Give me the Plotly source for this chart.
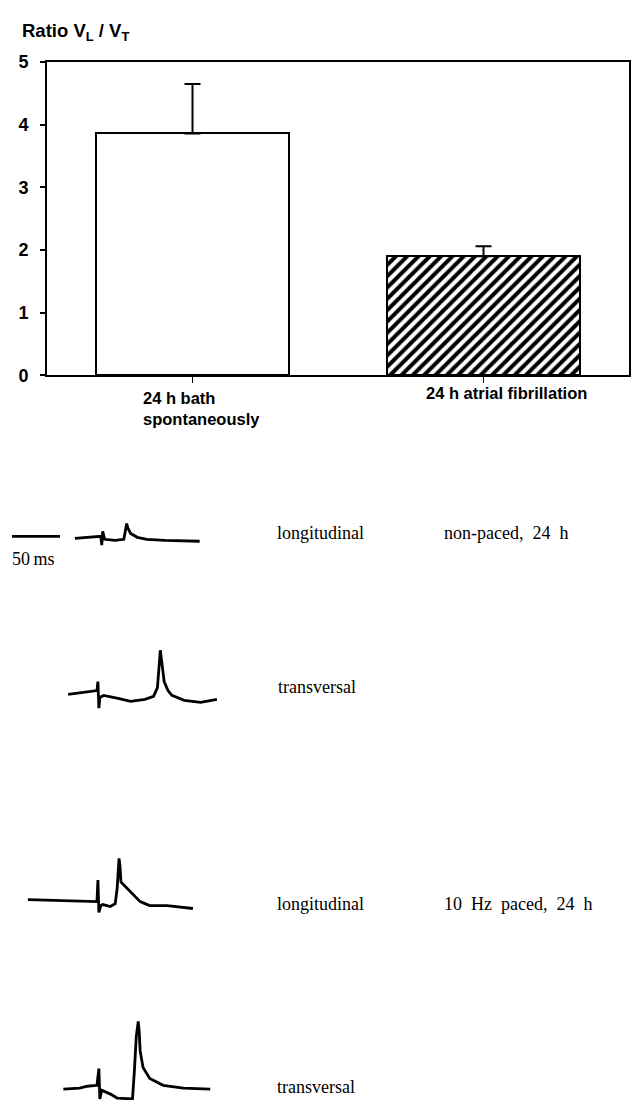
import plotly.graph_objects as go

W, H = 639, 1110

# ---------------- bar chart data ----------------
categories = ["24 h bath<br>spontaneously", "24 h atrial fibrillation"]
ratio_mean = [3.86, 1.90]
ratio_err = [0.79, 0.16]
y_ticks = [0, 1, 2, 3, 4, 5]

# ---------------- action potential recordings ----------------
# time in ms (50 ms scale bar), amplitude in arbitrary units (up = positive)
scale_bar_t = [12.5, 62.5]
scale_bar_a = [3, 3]

t_long_np = [78, 94, 105, 106, 107, 109, 120, 129, 131, 132, 133, 136, 143, 153, 172, 208]
a_long_np = [1, 2, 3, -6, 8, 0, -1, 0, 9, 16, 12, 6, 2, 0, -1, -2]

t_trans_np = [71, 89, 101, 102, 103, 104, 108, 123, 136, 151, 160, 164, 166, 167, 168, 171, 175, 179, 192, 209, 226]
a_trans_np = [0, 2, 4, 13, -14, -3, -1, -4, -7, -5, -2, 7, 37, 45, 37, 13, 4, -1, -6, -8, -5]

t_long_p = [29, 62, 101, 102, 103, 105, 107, 115, 120, 122, 124, 125, 126, 129, 133, 138, 142, 146, 151, 156, 174, 201]
a_long_p = [1, 0, -1, 21, -12, -5, -4, -6, -3, 12, 43, 35, 19, 16, 12, 7, 3, -1, -3, -5, -5, -8]

t_trans_p = [66, 83, 91, 101, 103, 104, 106, 115, 122, 138, 140, 142, 144, 145, 146, 149, 156, 170, 191, 219]
a_trans_p = [-1, 0, 2, 3, 20, -11, -2, -6, -10, -11, 18, 53, 68, 58, 38, 21, 10, 3, 0, -1]

fig = go.Figure()

err_style = dict(type="data", symmetric=False, color="black", thickness=2, width=8)
fig.add_trace(go.Bar(
    x=[0], y=[ratio_mean[0]], width=0.665,
    marker=dict(color="white", line=dict(color="black", width=2)),
    error_y=dict(array=[ratio_err[0]], arrayminus=[0], **err_style),
    showlegend=False, xaxis="x", yaxis="y"))
fig.add_trace(go.Bar(
    x=[1], y=[ratio_mean[1]], width=0.665,
    marker=dict(color="white", line=dict(color="black", width=2),
                pattern=dict(shape="/", fgcolor="black", bgcolor="white", fgopacity=1,
                             size=8, solidity=0.5)),
    error_y=dict(array=[ratio_err[1]], arrayminus=[0], **err_style),
    showlegend=False, xaxis="x", yaxis="y"))


def py(p):
    return 1 - p / H


def px(p):
    return p / W


fig.update_layout(
    width=W, height=H, margin=dict(l=0, r=0, t=0, b=0),
    paper_bgcolor="white", plot_bgcolor="white",
    xaxis=dict(domain=[px(47), px(629)], range=[-0.5, 1.5], tickvals=[0, 1], ticktext=["", ""],
               ticks="outside", ticklen=6, tickwidth=1.2, tickcolor="black",
               showline=True, linecolor="black", linewidth=1.8, mirror=True,
               showgrid=False, zeroline=False, fixedrange=True),
    yaxis=dict(domain=[py(372), py(53)], range=[0, 5], tickvals=y_ticks,
               ticks="outside", ticklen=5, tickwidth=1.5, tickcolor="black", ticklabelstandoff=8,
               tickfont=dict(family="Arial, Liberation Sans", size=18, color="black", weight="bold"),
               showline=True, linecolor="black", linewidth=1.8, mirror=True,
               showgrid=False, zeroline=False, fixedrange=True),
    bargap=0,
)

bold = dict(family="Arial, Liberation Sans", color="black", weight="bold")
annotations = [
    dict(text="Ratio V<sub>L</sub> / V<sub>T</sub>", x=px(20), y=py(22), xanchor="left", yanchor="middle",
         font=dict(size=18.5, **bold)),
    dict(text=categories[0], x=px(141), y=py(384), xanchor="left", yanchor="top", align="left",
         font=dict(size=16.5, **bold)),
    dict(text=categories[1], x=px(424), y=py(379), xanchor="left", yanchor="top", align="left",
         font=dict(size=16.5, **bold)),
]

serif = dict(family="Liberation Serif, Times New Roman", size=18, color="black")
sp = "\u00a0" * 2
labels = [
    ("longitudinal", 275, 533), (sp.join(["non-paced,", "24", "h"]), 442, 533), ("50\u2009ms", 10, 559),
    ("transversal", 276, 689),
    ("longitudinal", 275, 910), (sp.join(["10", "Hz", "paced,", "24", "h"]), 442, 910),
    ("transversal", 275, 1097),
]
for txt, x, y in labels:
    annotations.append(dict(text=txt, x=px(x), y=py(y), xanchor="left", yanchor="middle", font=serif))
for a in annotations:
    a.setdefault("showarrow", False)
    a.setdefault("xref", "paper")
    a.setdefault("yref", "paper")
fig.update_layout(annotations=annotations)

# recordings: shared time axis, 0.96 px per ms
ms_range = [0, W / 0.96]
rows = [
    # (baseline px, down px, up px, traces)
    (539, 12, 22, [(scale_bar_t, scale_bar_a), (t_long_np, a_long_np)]),
    (697, 18, 50, [(t_trans_np, a_trans_np)]),
    (907, 16, 48, [(t_long_p, a_long_p)]),
    (1098, 12, 72, [(t_trans_p, a_trans_p)]),
]
for i, (base, dn, up, trs) in enumerate(rows):
    k = i + 2
    fig.update_layout(**{
        f"xaxis{k}": dict(domain=[0, 1], range=ms_range, visible=False, fixedrange=True, anchor=f"y{k}"),
        f"yaxis{k}": dict(domain=[py(base + dn), py(base - up)], range=[-dn, up], visible=False,
                          fixedrange=True, anchor=f"x{k}"),
    })
    for t, a in trs:
        fig.add_trace(go.Scatter(x=t, y=a, mode="lines", line=dict(color="black", width=2.8),
                                 showlegend=False, xaxis=f"x{k}", yaxis=f"y{k}", hoverinfo="skip"))

fig.write_html("out.html", config={"displayModeBar": False},
               post_script="document.body.style.margin='0px';document.body.style.padding='0px';")
